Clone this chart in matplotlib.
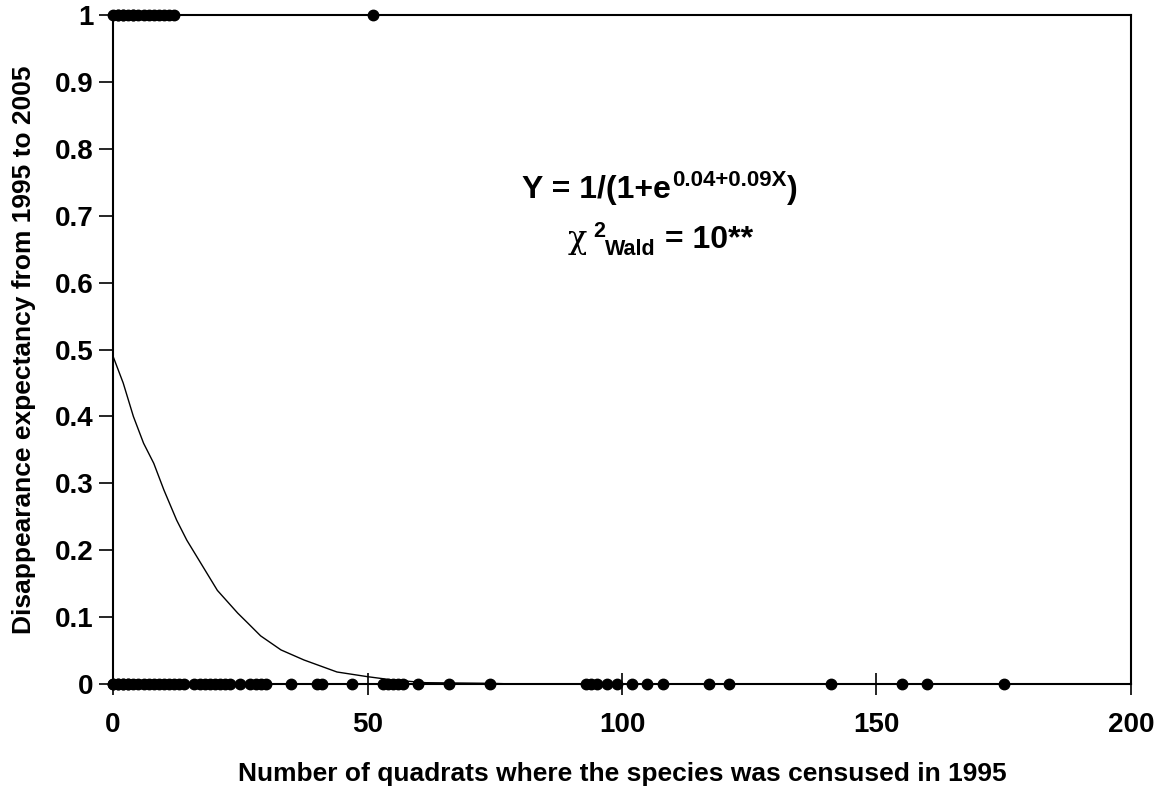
"""Logistic fit of species disappearance vs. number of quadrats censused in 1995."""

import matplotlib

matplotlib.use("Agg")
import matplotlib.pyplot as plt

plt.rcParams["font.family"] = ["Liberation Sans", "DejaVu Sans"]
plt.rcParams["font.weight"] = "bold"

# species that disappeared (Y = 1)
gone_x = [0, 1, 1, 2, 2, 3, 4, 4, 5, 6, 7, 8, 9, 10, 11, 12, 51]
# species still present (Y = 0)
kept_x = [0, 0, 1, 1, 2, 2, 3, 3, 4, 5, 6, 7, 8, 9, 10, 11, 12, 13, 14,
          16, 17, 18, 19, 20, 21, 22, 23, 25, 27, 28, 29, 30, 35, 40, 41,
          47, 53, 54, 55, 56, 57, 60, 66, 74, 93, 94, 95, 97, 99, 102,
          105, 108, 117, 121, 141, 155, 160, 175]

# fitted logistic curve
fit_x = [0, 2, 4, 6, 8, 10, 12.5, 14.5, 16.5, 20.5, 24.5, 26.5, 29,
         33, 37.5, 44, 50, 55, 61.5, 74.5, 79]
fit_y = [0.49, 0.45, 0.40, 0.36, 0.33, 0.29, 0.245, 0.215, 0.19, 0.14,
         0.106, 0.091, 0.072, 0.051, 0.036, 0.018, 0.011, 0.006, 0.002,
         0.001, 0.0]

fig = plt.figure(figsize=(11.64, 7.94), dpi=100)
ax = fig.add_axes([0.0971, 0.1385, 0.8745, 0.8425])

ax.plot(fit_x, fit_y, color="black", linewidth=1.0, zorder=2)
ax.plot(gone_x, [1] * len(gone_x), "o", color="black", markersize=7.5,
        clip_on=False, zorder=3)
ax.plot(kept_x, [0] * len(kept_x), "o", color="black", markersize=7.5,
        clip_on=False, zorder=3)

ax.set_xlim(0, 200)
ax.set_ylim(0, 1)
ax.set_xticks([0, 50, 100, 150, 200])
ax.set_xticklabels(["0", "50", "100", "150", "200"])
ax.set_yticks([i / 10 for i in range(11)])
ax.set_yticklabels(["0"] + [f"0.{i}" for i in range(1, 10)] + ["1"])
ax.tick_params(axis="x", direction="inout", length=16, width=1.2,
               labelsize=20, pad=12)
ax.tick_params(axis="y", direction="out", length=10, width=1.2,
               labelsize=20, pad=4)
for label in ax.get_xticklabels() + ax.get_yticklabels():
    label.set_fontweight("bold")
for spine in ax.spines.values():
    spine.set_linewidth(1.5)

ax.set_xlabel("Number of quadrats where the species was censused in 1995",
              fontsize=19, fontweight="bold", va="top")
ax.xaxis.set_label_coords(0.5, -0.1165)
ax.set_ylabel("Disappearance expectancy from 1995 to 2005",
              fontsize=19, fontweight="bold")
ax.yaxis.set_label_coords(-0.076, 0.5)

# fitted equation, built piece by piece so super/subscripts sit like the original
base1 = 0.726
eq_a = ax.text(80.4, base1, "Y = 1/(1+e", fontsize=23, fontweight="bold",
               ha="left", va="baseline")
eq_b = ax.annotate("0.04+0.09X", xy=(1, base1), xycoords=(eq_a, "data"),
                   xytext=(0.5, 8.6), textcoords="offset points",
                   fontsize=16, fontweight="bold", ha="left", va="baseline")
ax.annotate(")", xy=(1, base1), xycoords=(eq_b, "data"),
            xytext=(0.5, 0), textcoords="offset points",
            fontsize=23, fontweight="bold", ha="left", va="baseline")

base2 = 0.6517
chi = ax.text(89.4, base2, "χ", fontsize=23, fontweight="normal",
              family="DejaVu Serif", ha="left", va="baseline")
sq = ax.annotate("2", xy=(1, base2), xycoords=(chi, "data"),
                 xytext=(4, 8), textcoords="offset points",
                 fontsize=15.5, fontweight="bold", ha="left", va="baseline")
wald = ax.annotate("Wald", xy=(1, base2), xycoords=(sq, "data"),
                   xytext=(0, -5), textcoords="offset points",
                   fontsize=15.5, fontweight="bold", ha="left", va="baseline")
ax.annotate(" = 10**", xy=(1, base2), xycoords=(wald, "data"),
            fontsize=23, fontweight="bold", ha="left", va="baseline")

fig.savefig("out.png", dpi=100)
